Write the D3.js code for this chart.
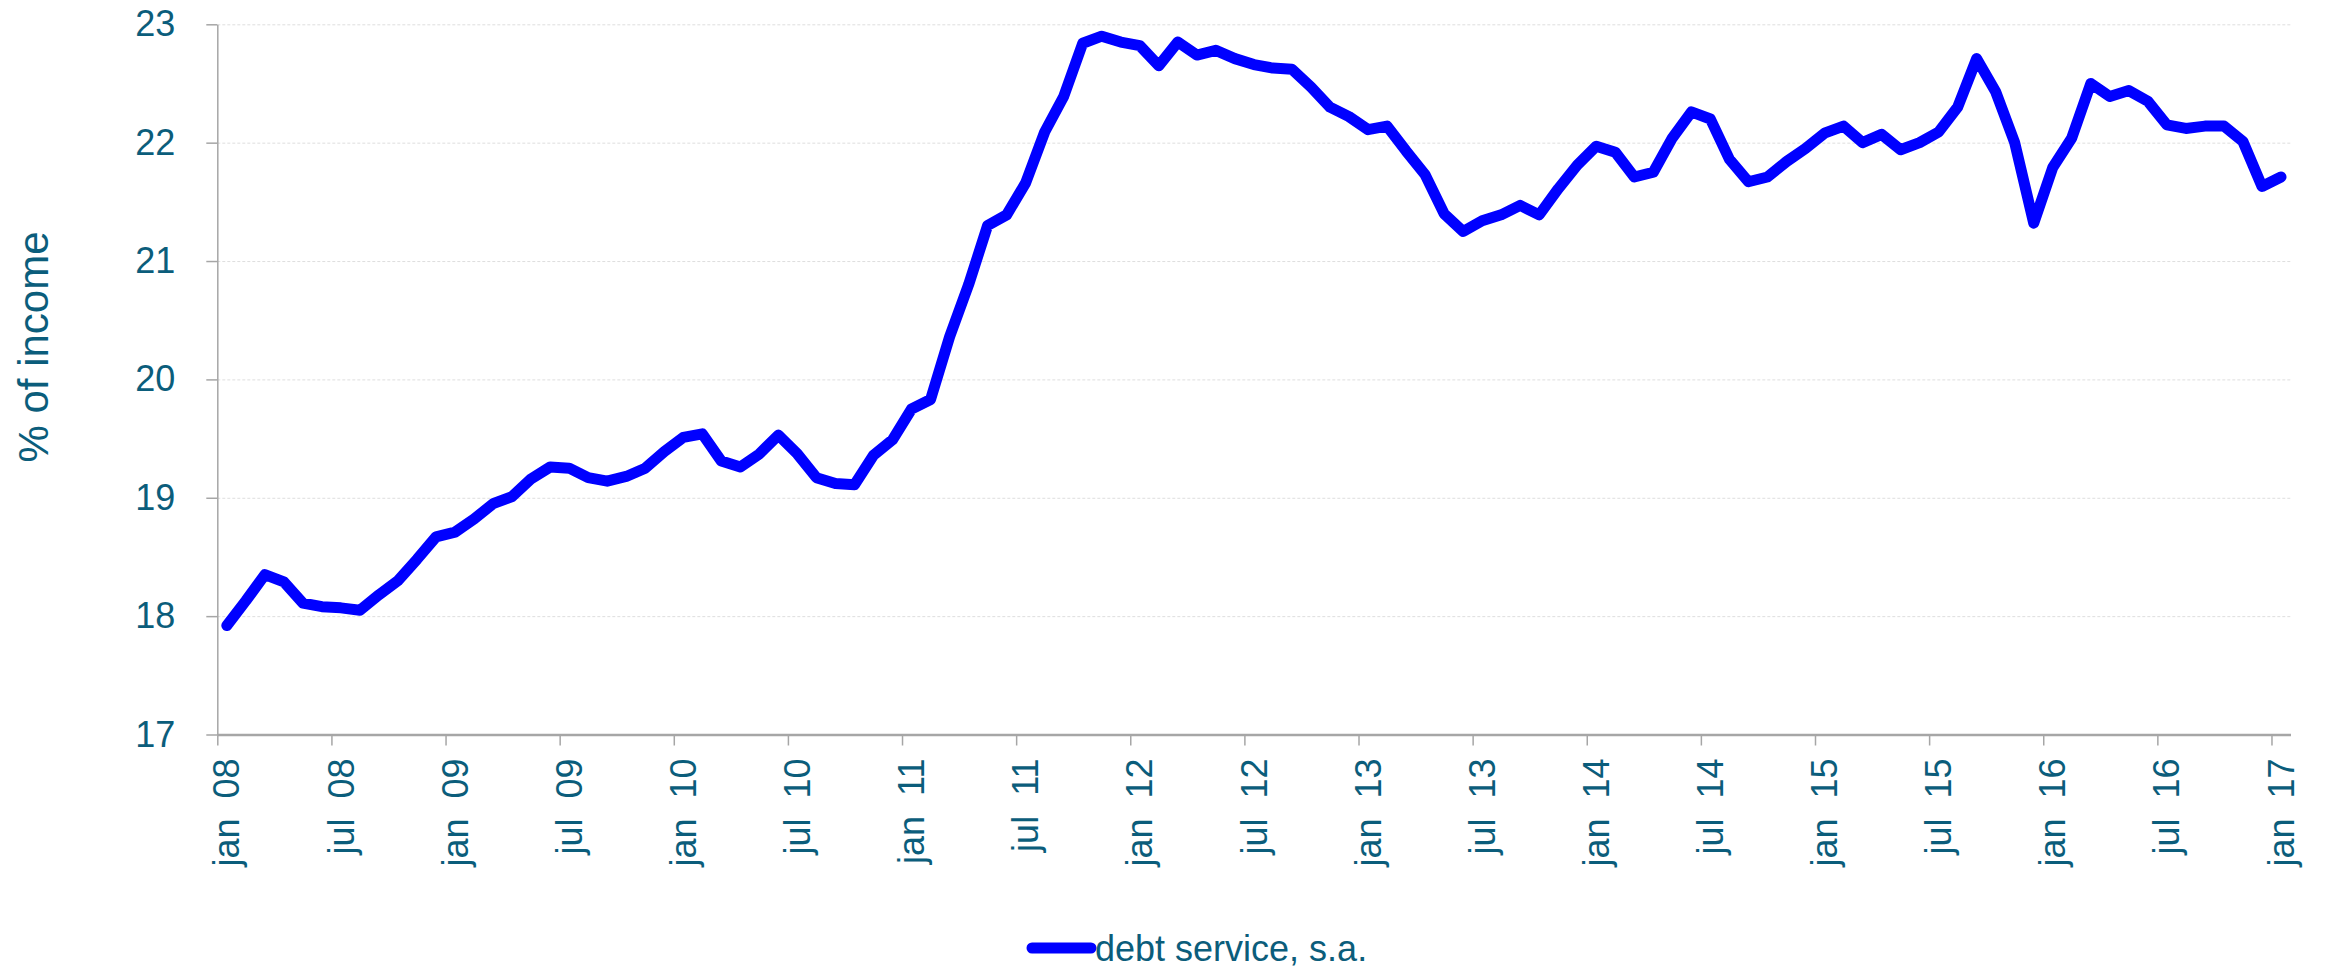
<!DOCTYPE html>
<html>
<head>
<meta charset="utf-8">
<script src="https://cdn.jsdelivr.net/npm/d3@7/dist/d3.min.js"></script>
<style>
  body { margin: 0; background: #fff; }
  svg { display: block; font-family: "Liberation Sans", Arial, sans-serif; }
  .axis text { fill: #0b5d7b; font-size: 36px; }
  .axis path, .axis line { stroke: #a6a6a6; }
  .grid line { stroke: #dedede; stroke-dasharray: 3,2; }
  .grid path { display: none; }
</style>
</head>
<body>
<svg id="chart" width="2329" height="970"></svg>
<script>
// monthly series, jan 08 .. jan 17
const years = ["08", "09", "10", "11", "12", "13", "14", "15", "16", "17"];
const monthNames = ["jan", "feb", "mar", "apr", "may", "jun", "jul", "aug", "sep", "oct", "nov", "dec"];

const debtService = [
  17.92, 18.13, 18.35, 18.29, 18.11, 18.08, 18.07, 18.05, 18.18, 18.30, 18.48, 18.67, // 2008
  18.71, 18.82, 18.95, 19.01, 19.16, 19.26, 19.25, 19.17, 19.14, 19.18, 19.25, 19.39, // 2009
  19.51, 19.54, 19.31, 19.26, 19.37, 19.53, 19.37, 19.17, 19.12, 19.11, 19.36, 19.49, // 2010
  19.75, 19.83, 20.36, 20.80, 21.30, 21.39, 21.66, 22.09, 22.39, 22.84, 22.90, 22.85, // 2011
  22.82, 22.65, 22.85, 22.74, 22.78, 22.71, 22.66, 22.63, 22.62, 22.47, 22.30, 22.22, // 2012
  22.11, 22.14, 21.93, 21.73, 21.40, 21.25, 21.34, 21.39, 21.47, 21.39, 21.61, 21.81, // 2013
  21.97, 21.92, 21.71, 21.75, 22.04, 22.26, 22.20, 21.86, 21.67, 21.71, 21.84, 21.95, // 2014
  22.08, 22.14, 22.00, 22.07, 21.94, 22.00, 22.09, 22.30, 22.71, 22.43, 22.00, 21.32, // 2015
  21.79, 22.04, 22.50, 22.39, 22.44, 22.35, 22.15, 22.12, 22.14, 22.14, 22.01, 21.63, // 2016
  21.71                                                                                // 2017
];

const xTickLabels = ["jan 08", "jul 08", "jan 09", "jul 09", "jan 10", "jul 10", "jan 11", "jul 11",
  "jan 12", "jul 12", "jan 13", "jul 13", "jan 14", "jul 14", "jan 15", "jul 15", "jan 16", "jul 16", "jan 17"];
const yTicks = [17, 18, 19, 20, 21, 22, 23];
const seriesName = "debt service, s.a.";
const yTitle = "% of income";

// category list
let months = [];
years.forEach(function(yr) {
  monthNames.forEach(function(m) {
    if (months.length < debtService.length) months.push(m + " " + yr);
  });
});

const margin = { left: 217.3, right: 2290.5, top: 24.3, bottom: 734.5 };

const svg = d3.select("#chart");

const x = d3.scaleBand()
  .domain(months)
  .range([margin.left, margin.right])
  .padding(0);

// edges of the categories, ticks sit between months
const xEdge = d3.scaleLinear()
  .domain([0, months.length])
  .range([margin.left, margin.right]);

const y = d3.scaleLinear()
  .domain([17, 23])
  .range([margin.bottom, margin.top]);

// grid
svg.append("g")
  .attr("class", "grid")
  .attr("transform", "translate(" + margin.left + ",0)")
  .call(d3.axisLeft(y).tickValues(yTicks.slice(1)).tickSize(-(margin.right - margin.left)).tickFormat(""));

// y axis
const gy = svg.append("g")
  .attr("class", "axis y")
  .attr("transform", "translate(" + margin.left + ",0)")
  .call(d3.axisLeft(y).tickValues(yTicks).tickSize(11).tickSizeOuter(0).tickPadding(31).tickFormat(d3.format("d")));
gy.select(".domain").attr("stroke-width", 1.5);
gy.selectAll("line").attr("stroke-width", 1.5);

// x axis ticks
const gxTicks = svg.append("g")
  .attr("class", "axis x")
  .attr("transform", "translate(0," + margin.bottom + ")")
  .call(d3.axisBottom(xEdge).tickValues(d3.range(0, months.length, 6)).tickSize(11).tickSizeOuter(0).tickFormat(""));
gxTicks.select(".domain").attr("stroke-width", 2.5);
gxTicks.selectAll("line").attr("stroke-width", 1.5);

// x labels, at month centres
const gx = svg.append("g")
  .attr("class", "axis xlabels")
  .attr("transform", "translate(0," + margin.bottom + ")")
  .call(d3.axisBottom(x).tickValues(xTickLabels).tickSize(0).tickSizeOuter(0));
gx.select(".domain").remove();
gx.selectAll("text")
  .attr("transform", "rotate(-90)")
  .attr("x", -24)
  .attr("y", 0)
  .attr("dy", "0.35em")
  .style("text-anchor", "end")
  .style("word-spacing", "10px");

// y title
svg.append("text")
  .attr("transform", "translate(33,347) rotate(-90)")
  .attr("dy", "0.35em")
  .attr("text-anchor", "middle")
  .style("font-size", "42px")
  .style("fill", "#0b5d7b")
  .text(yTitle);

// series
const line = d3.line()
  .x(function(d, i) { return x(months[i]) + x.bandwidth() / 2; })
  .y(function(d) { return y(d); });

svg.append("path")
  .datum(debtService)
  .attr("fill", "none")
  .attr("stroke", "#0000ff")
  .attr("stroke-width", 11)
  .attr("stroke-linejoin", "round")
  .attr("stroke-linecap", "round")
  .attr("d", line);

// legend
const legend = svg.append("g").attr("transform", "translate(1032,948)");
legend.append("line")
  .attr("x1", 0).attr("x2", 59)
  .attr("stroke", "#0000ff")
  .attr("stroke-width", 11)
  .attr("stroke-linecap", "round");
legend.append("text")
  .attr("x", 63)
  .attr("dy", "0.35em")
  .style("font-size", "36px")
  .style("fill", "#0b5d7b")
  .text(seriesName);
</script>
</body>
</html>
